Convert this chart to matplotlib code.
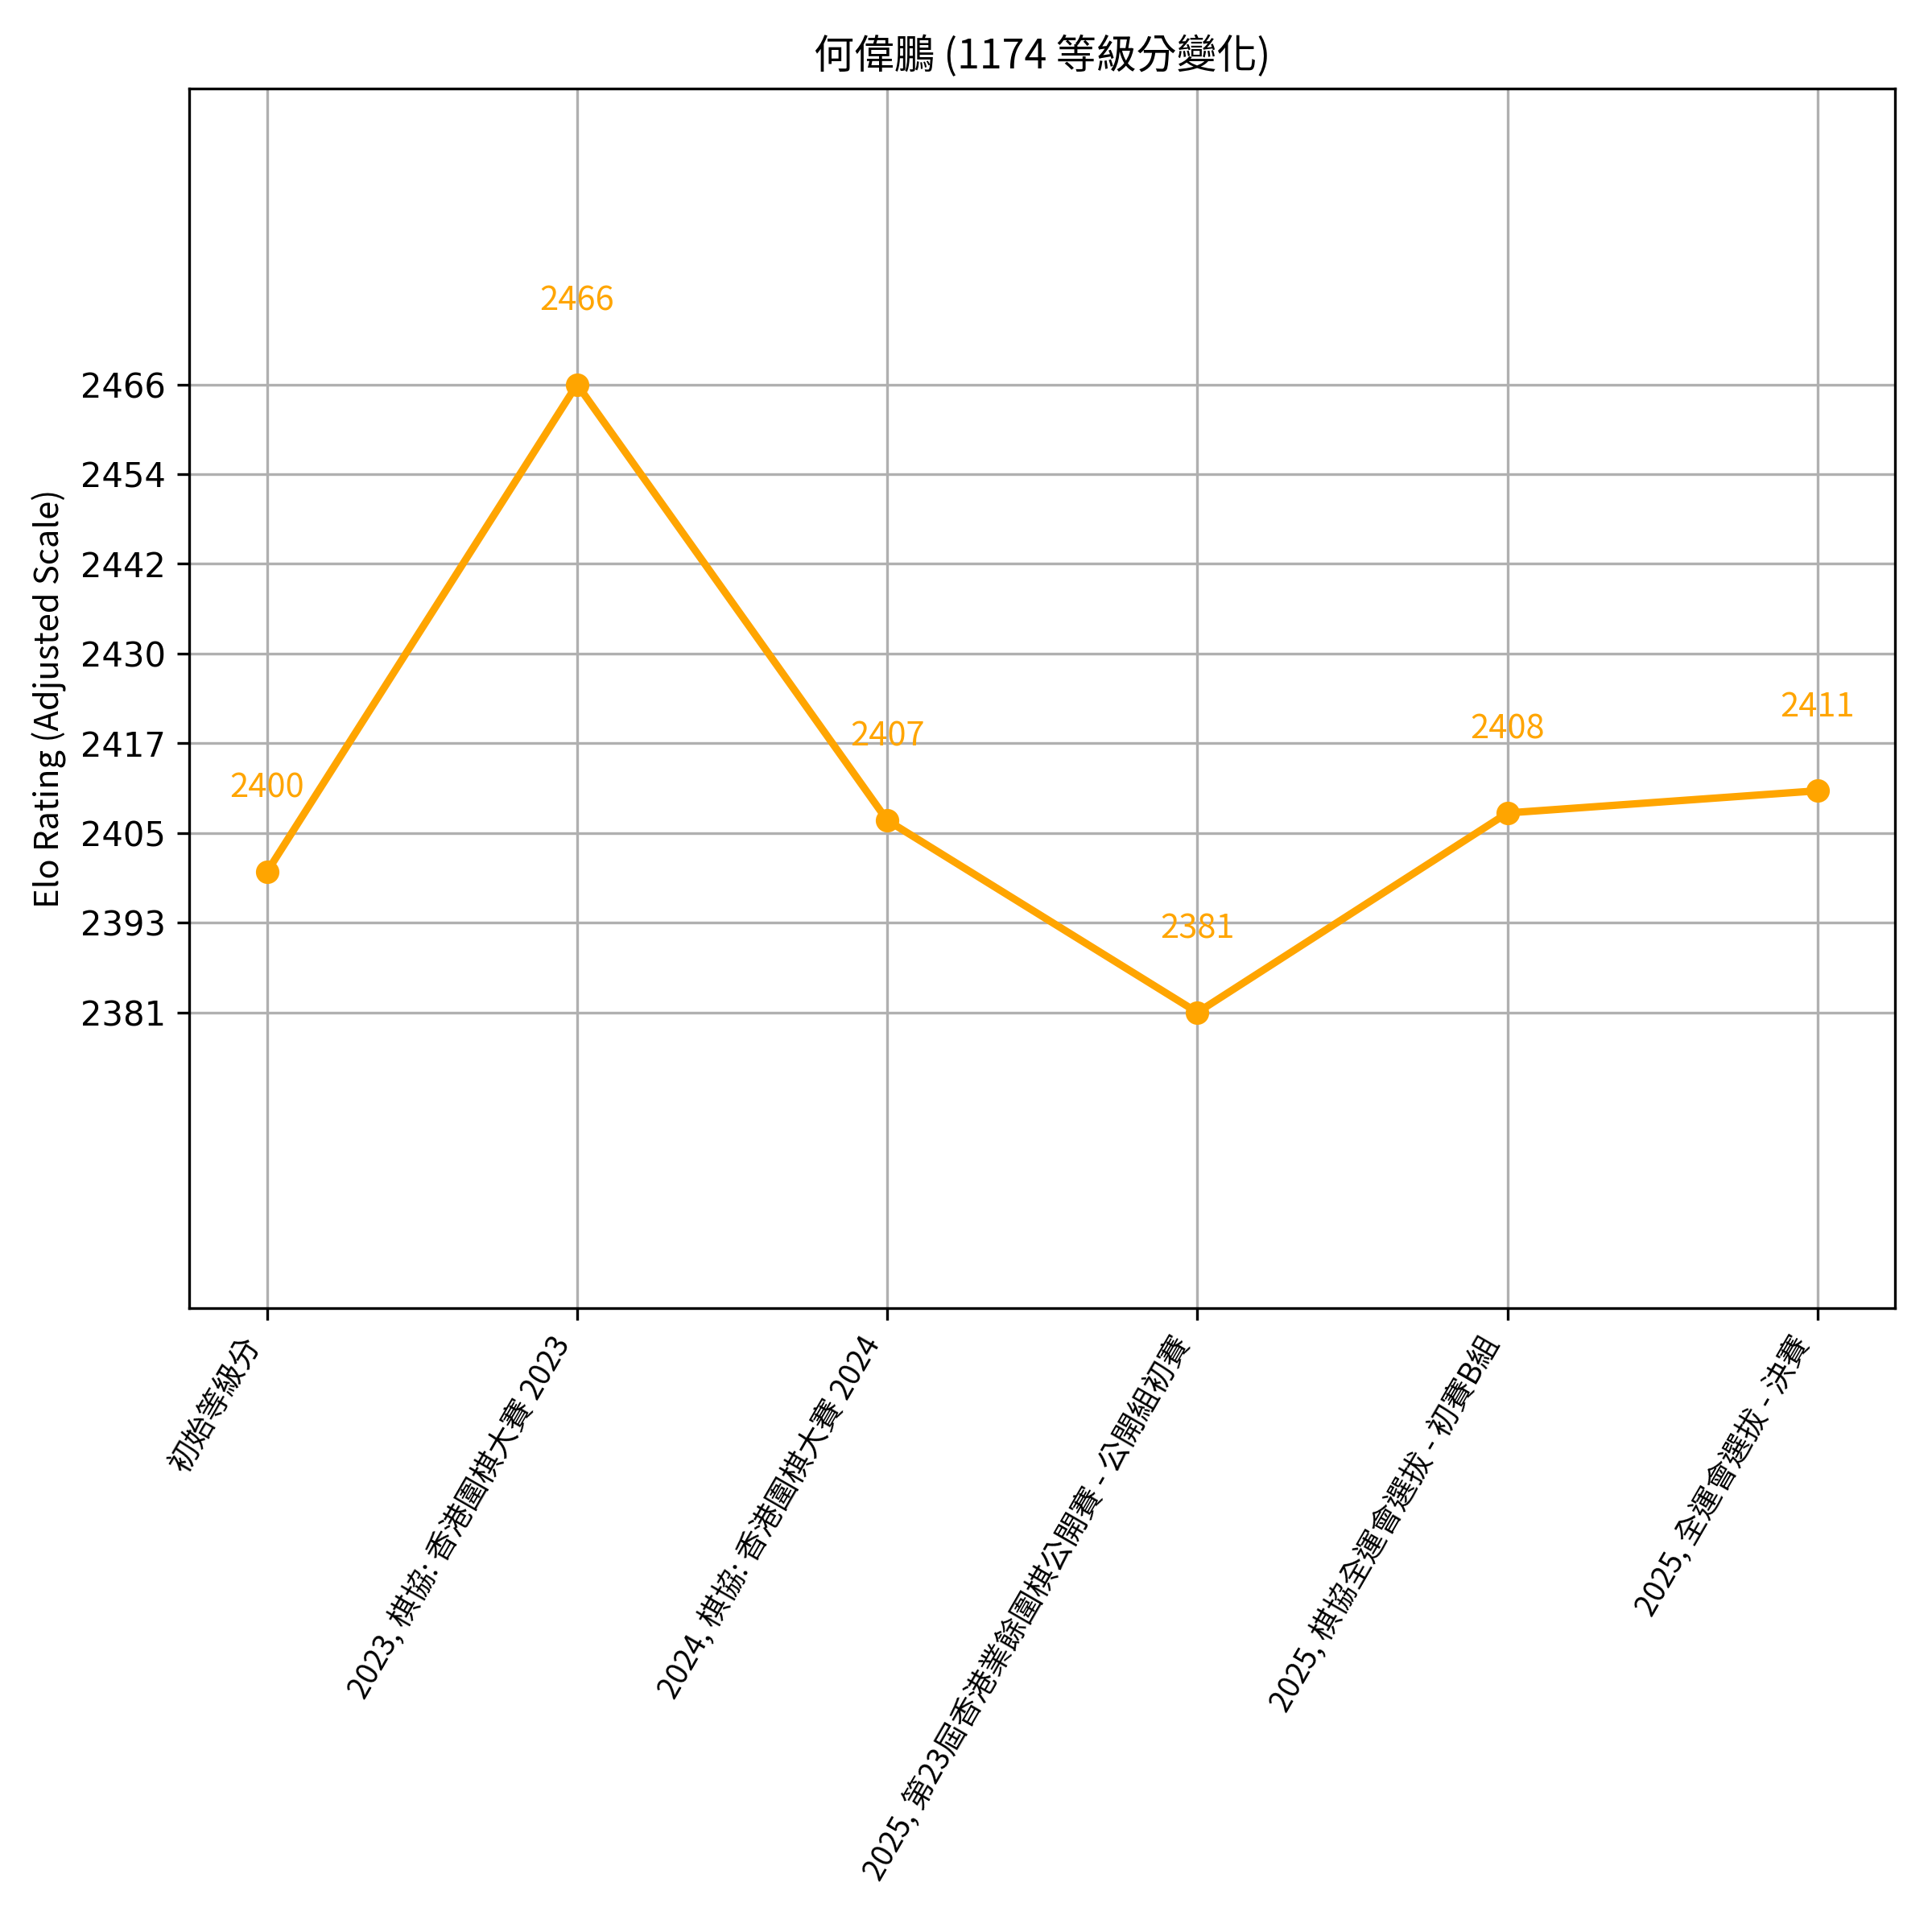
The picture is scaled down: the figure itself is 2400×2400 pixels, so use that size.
import matplotlib
matplotlib.use('Agg')
import matplotlib.pyplot as plt
import numpy as np

# 比賽及等級分
player = '何偉鵬'
player_id = 1174
events = [
    '初始等級分',
    '2023, 棋協: 香港圍棋大賽 2023',
    '2024, 棋協: 香港圍棋大賽 2024',
    '2025, 第23屆香港業餘圍棋公開賽 - 公開組初賽',
    '2025, 棋協全運會選拔 - 初賽B組',
    '2025, 全運會選拔 - 決賽',
]
ratings = [2400, 2466, 2407, 2381, 2408, 2411]

cjk = ['Noto Sans CJK TC', 'DejaVu Sans']
color = 'orange'

fig, ax = plt.subplots(figsize=(8, 8), dpi=300)
x = np.arange(len(events))
ax.plot(x, ratings, marker='o', color=color, linewidth=2.2, markersize=6)

for xi, r in zip(x, ratings):
    ax.annotate(str(r), (xi, r), xytext=(0, 20), textcoords='offset points',
                ha='center', va='bottom', color=color, fontsize=10, family=cjk)

lo, hi = min(ratings), max(ratings)
ax.set_ylim(lo - 40, hi + 40)
yt = np.linspace(lo, hi, 8)
ax.set_yticks(yt)
ax.set_yticklabels([str(int(round(v))) for v in yt], fontsize=10)

ax.set_xticks(x)
ax.set_xticklabels(events, rotation=60, ha='right', fontsize=9, family=cjk)

ax.set_title(f'{player} ({player_id} 等級分變化)', fontsize=12, family=cjk)
ax.set_ylabel('Elo Rating (Adjusted Scale)', fontsize=10, family=cjk)
ax.grid(True)

plt.subplots_adjust(left=0.098, right=0.981, top=0.954, bottom=0.323)
plt.savefig('out.png', dpi=300)
